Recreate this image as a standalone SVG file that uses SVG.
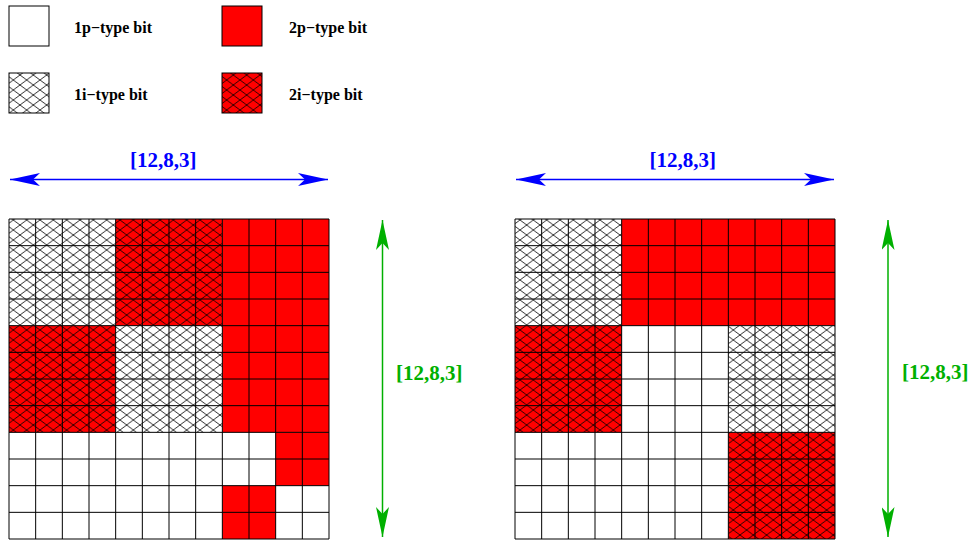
<svg xmlns="http://www.w3.org/2000/svg" width="971" height="540" viewBox="0 0 971 540">
<style>
.lbl{font-family:"Liberation Serif","Times New Roman",serif;font-weight:bold;font-size:16px;fill:#000}
.dim{font-family:"Liberation Serif","Times New Roman",serif;font-weight:bold;font-size:21px}
.blue{fill:#0000ff}
.green{fill:#00b000}
.p1{fill:#fff}
.p2{fill:#ff0000}
.i1{fill:url(#hw)}
.i2{fill:url(#hr)}
.grid{fill:none;stroke:#000;stroke-width:1}
.box{stroke:#000;stroke-width:1}
</style>
<defs>
<pattern id="hw" patternUnits="userSpaceOnUse" width="13.333" height="10">
<rect width="13.333" height="10" fill="#fff"/>
<path d="M0,0 L13.333,10 M0,10 L13.333,0" stroke="#000" stroke-width="0.8" fill="none"/>
</pattern>
<pattern id="hr" patternUnits="userSpaceOnUse" width="13.333" height="10">
<rect width="13.333" height="10" fill="#ff0000"/>
<path d="M0,0 L13.333,10 M0,10 L13.333,0" stroke="#000" stroke-width="0.8" fill="none"/>
</pattern>
<marker id="ab" markerUnits="userSpaceOnUse" viewBox="0 0 30 13" markerWidth="30" markerHeight="13" refX="30" refY="6.5" orient="auto-start-reverse">
<path d="M0,0 L30,6.5 L0,13 L7,6.5 Z" fill="#0000ff"/>
</marker>
<marker id="ag" markerUnits="userSpaceOnUse" viewBox="0 0 30 13" markerWidth="30" markerHeight="13" refX="30" refY="6.5" orient="auto-start-reverse">
<path d="M0,0 L30,6.5 L0,13 L7,6.5 Z" fill="#00b000"/>
</marker>
</defs>

<g id="legend-1p"><rect class="p1 box" x="9" y="6" width="40" height="40"/><text class="lbl" x="74" y="33">1p−type bit</text></g>
<g id="legend-2p"><rect class="p2 box" x="222" y="6" width="40" height="40"/><text class="lbl" x="289" y="33">2p−type bit</text></g>
<g id="legend-1i"><rect class="i1 box" x="9" y="73" width="40" height="40"/><text class="lbl" x="74" y="100">1i−type bit</text></g>
<g id="legend-2i"><rect class="i2 box" x="222" y="73" width="40" height="40"/><text class="lbl" x="289" y="100">2i−type bit</text></g>

<g id="grid-left">
<rect class="p1" x="9" y="219" width="320" height="320"/>
<rect class="i1" x="9" y="219" width="106.667" height="106.667"/>
<rect class="i1" x="115.667" y="325.667" width="106.667" height="106.667"/>
<rect class="i2" x="115.667" y="219" width="106.667" height="106.667"/>
<rect class="i2" x="9" y="325.667" width="106.667" height="106.667"/>
<rect class="p2" x="222.333" y="219" width="106.667" height="213.333"/>
<rect class="p2" x="275.667" y="432.333" width="53.333" height="53.333"/>
<rect class="p2" x="222.333" y="485.667" width="53.333" height="53.333"/>
<path class="grid" d="M9,219v320M35.667,219v320M62.333,219v320M89,219v320M115.667,219v320M142.333,219v320M169,219v320M195.667,219v320M222.333,219v320M249,219v320M275.667,219v320M302.333,219v320M329,219v320M9,219h320M9,245.667h320M9,272.333h320M9,299h320M9,325.667h320M9,352.333h320M9,379h320M9,405.667h320M9,432.333h320M9,459h320M9,485.667h320M9,512.333h320M9,539h320"/>
</g>

<g id="grid-right">
<rect class="p1" x="515" y="219" width="320" height="320"/>
<rect class="i1" x="515" y="219" width="106.667" height="106.667"/>
<rect class="p2" x="621.667" y="219" width="213.333" height="106.667"/>
<rect class="i2" x="515" y="325.667" width="106.667" height="106.667"/>
<rect class="i1" x="728.333" y="325.667" width="106.667" height="106.667"/>
<rect class="i2" x="728.333" y="432.333" width="106.667" height="106.667"/>
<path class="grid" d="M515,219v320M541.667,219v320M568.333,219v320M595,219v320M621.667,219v320M648.333,219v320M675,219v320M701.667,219v320M728.333,219v320M755,219v320M781.667,219v320M808.333,219v320M835,219v320M515,219h320M515,245.667h320M515,272.333h320M515,299h320M515,325.667h320M515,352.333h320M515,379h320M515,405.667h320M515,432.333h320M515,459h320M515,485.667h320M515,512.333h320M515,539h320"/>
</g>

<g id="connectors">
<line x1="10" y1="179.5" x2="328" y2="179.5" stroke="#0000ff" stroke-width="1.5" marker-start="url(#ab)" marker-end="url(#ab)"/>
<line x1="516" y1="179.5" x2="834" y2="179.5" stroke="#0000ff" stroke-width="1.5" marker-start="url(#ab)" marker-end="url(#ab)"/>
<line x1="382.5" y1="220" x2="382.5" y2="537" stroke="#00b000" stroke-width="1.5" marker-start="url(#ag)" marker-end="url(#ag)"/>
<line x1="888" y1="220" x2="888" y2="537" stroke="#00b000" stroke-width="1.5" marker-start="url(#ag)" marker-end="url(#ag)"/>
</g>

<g id="labels">
<text class="dim blue" x="130" y="167">[12,8,3]</text>
<text class="dim blue" x="649.5" y="167">[12,8,3]</text>
<text class="dim green" x="396" y="380">[12,8,3]</text>
<text class="dim green" x="902" y="379">[12,8,3]</text>
</g>
</svg>
